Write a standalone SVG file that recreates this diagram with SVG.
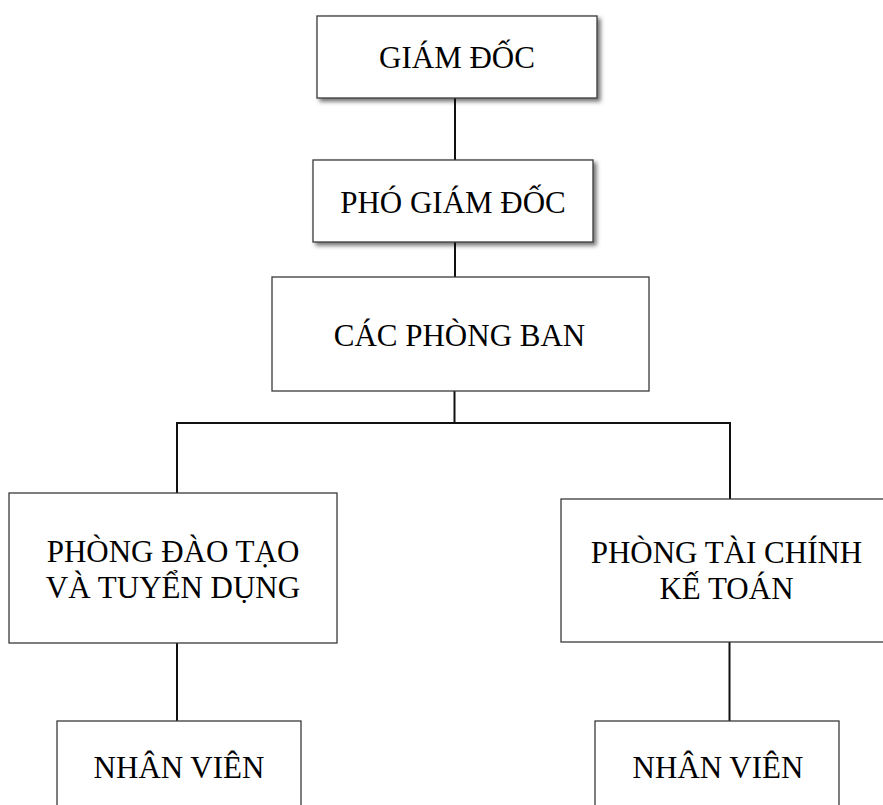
<svg xmlns="http://www.w3.org/2000/svg" width="883" height="805" viewBox="0 0 883 805">
  <defs>
    <filter id="shadow" x="-10%" y="-10%" width="130%" height="140%">
      <feDropShadow dx="3" dy="3" stdDeviation="2" flood-color="#000" flood-opacity="0.55"/>
    </filter>
  </defs>
  <style>
    .box { fill: #ffffff; stroke: #3a3a3a; stroke-width: 1.3; }
    .lbl { font-family: "Liberation Serif", "Times New Roman", serif; font-size: 31px; fill: #000; text-anchor: middle; }
    .conn { stroke: #111; stroke-width: 2; fill: none; }
  </style>
  <rect width="883" height="805" fill="#ffffff"/>
  <g id="connectors">
    <line class="conn" x1="455" y1="98" x2="455" y2="160"/>
    <line class="conn" x1="455" y1="242" x2="455" y2="277"/>
    <line class="conn" x1="454.5" y1="391" x2="454.5" y2="423"/>
    <line class="conn" x1="176" y1="423" x2="731" y2="423"/>
    <line class="conn" x1="177" y1="423" x2="177" y2="493"/>
    <line class="conn" x1="730" y1="423" x2="730" y2="499"/>
    <line class="conn" x1="177" y1="643" x2="177" y2="721"/>
    <line class="conn" x1="729.5" y1="642" x2="729.5" y2="721"/>
  </g>
  <g id="giam-doc">
    <rect class="box" x="317" y="16" width="280" height="82" filter="url(#shadow)"/>
    <text class="lbl" x="457" y="68">GIÁM ĐỐC</text>
  </g>
  <g id="pho-giam-doc">
    <rect class="box" x="313" y="160" width="280" height="82" filter="url(#shadow)"/>
    <text class="lbl" x="453" y="213">PHÓ GIÁM ĐỐC</text>
  </g>
  <g id="cac-phong-ban">
    <rect class="box" x="272" y="277" width="377" height="114"/>
    <text class="lbl" x="459.5" y="346">CÁC PHÒNG BAN</text>
  </g>
  <g id="phong-dao-tao">
    <rect class="box" x="9" y="493" width="328" height="150"/>
    <text class="lbl" x="173" y="562">PHÒNG ĐÀO TẠO</text>
    <text class="lbl" x="173" y="598">VÀ TUYỂN DỤNG</text>
  </g>
  <g id="phong-tai-chinh">
    <rect class="box" x="561" y="499" width="331" height="143"/>
    <text class="lbl" x="726.5" y="563">PHÒNG TÀI CHÍNH</text>
    <text class="lbl" x="726.5" y="599">KẾ TOÁN</text>
  </g>
  <g id="nhan-vien-1">
    <rect class="box" x="57" y="721" width="244" height="100"/>
    <text class="lbl" x="179" y="778">NHÂN VIÊN</text>
  </g>
  <g id="nhan-vien-2">
    <rect class="box" x="595" y="721" width="244" height="100"/>
    <text class="lbl" x="718" y="778">NHÂN VIÊN</text>
  </g>
</svg>
